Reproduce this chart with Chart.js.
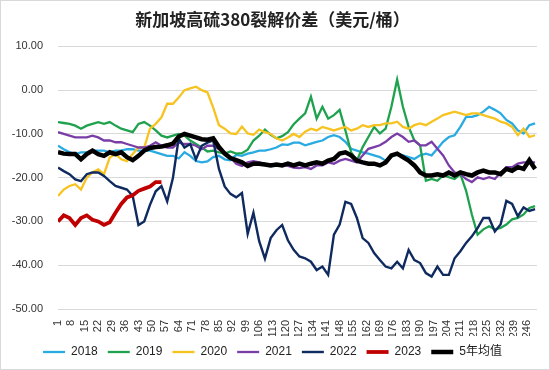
<!DOCTYPE html>
<html><head><meta charset="utf-8">
<script src="https://cdn.jsdelivr.net/npm/chart.js@4.4.1/dist/chart.umd.min.js"></script>
<style>html,body{margin:0;padding:0;background:#fff}</style>
</head><body>
<canvas id="c" width="550" height="370"></canvas>
<script>
const days = [1,4,7,10,13,16,19,22,25,28,31,34,37,40,43,46,49,52,55,58,61,64,
  67,70,73,76,79,82,85,88,91,94,97,100,103,106,109,112,115,118,121,124,127,
  130,133,136,139,142,145,148,151,154,157,160,163,166,169,172,175,178,181,184,187,190,
  193,196,199,202,205,208,211,214,217,220,223,226,229,232,235,238,241,244,247,250];
const xTickLabels = [1,8,15,22,29,36,43,50,57,64,71,78,85,92,99,106,113,120,127,134,141,148,155,162,169,176,183,190,197,204,211,218,225,232,239,246];
const seriesNames = ['2018','2019','2020','2021','2022','2023','5年均值'];

const y2018 = [-12.7,-13.5,-14.2,-14.6,-14.2,-14.2,-13.8,-13.8,-13.8,-14.2,-13.8,-13.8,-13.5,-13.5,-13.8,-13.8,-13.8,-14.2,-14.6,-15,-15,-15.6,
  -14.2,-15,-16.2,-16.5,-16.3,-15.3,-15,-15.8,-16,-14.8,-15,-14.5,-14.2,-13.8,-13.8,-13.5,-13.1,-12.4,-12.5,-12,-12,
  -12.6,-12.2,-11.8,-11.5,-10.7,-10.3,-10.7,-11.8,-13.4,-13.8,-14.2,-14.5,-14.9,-15.3,-16.1,-15.3,-14.5,-14.9,-15.3,-15.7,-14.9,
  -14.5,-14.9,-13.4,-11.8,-10.7,-10.3,-8.4,-6.1,-6.1,-5.7,-4.9,-3.8,-4.5,-5.3,-6.8,-7.6,-9.2,-9.9,-8,-7.6];
const y2019 = [-7.3,-7.5,-7.7,-8.1,-8.8,-8.1,-7.7,-7.3,-7.7,-7.3,-8.1,-8.8,-9.2,-9.6,-7.7,-7.3,-8.1,-9.2,-10.4,-10.8,-10.4,-10,
  -10.4,-11.5,-12.3,-13.1,-14,-13.8,-14.2,-14.5,-14,-14.5,-14.4,-13.6,-11.5,-10.4,-9,-10.2,-11,-10.5,-9.6,-7.8,-6.5,
  -5.3,-1.5,-6.5,-3.8,-6.5,-5.7,-4.5,-9.2,-14.2,-16.1,-13,-10.7,-8.4,-9.9,-8.8,-3.8,2.4,-3.8,-8.4,-11.5,-12.6,
  -20.7,-20.3,-20.7,-19.5,-19.9,-20.3,-19.2,-23,-28.4,-33,-31.8,-31.1,-31.8,-31.5,-30.7,-29.5,-29.2,-28.4,-26.9,-26.5];
const y2020 = [-24.2,-22.7,-21.9,-21.5,-22.7,-20,-18.8,-18.1,-19.2,-15.4,-14.6,-15.8,-16.2,-14.6,-13.1,-13.1,-8.8,-7.7,-6.2,-3.1,-3.1,-1.7,
  0,0.4,0.8,0,-0.5,-4,-8,-8.8,-9.9,-10,-8.3,-9.9,-10.2,-9,-9.6,-10,-11,-11.5,-10.8,-10,-10.7,
  -9.5,-8.8,-9.2,-8.4,-8.8,-9.2,-8.8,-8.4,-9.2,-8.8,-8,-8.4,-8,-8,-7.6,-7.6,-7.2,-8.4,-8.8,-8,-7.6,
  -8,-7.2,-6.5,-5.7,-5.3,-4.9,-5.3,-5.7,-5.3,-5.3,-5.7,-6.1,-6.5,-7.2,-7.6,-8.4,-10.3,-8.8,-10.7,-10.3];
const y2021 = [-9.6,-10,-10.4,-10.8,-10.8,-10.8,-10.4,-10.8,-11.5,-11.5,-11.9,-11.9,-12.3,-12.7,-13.1,-13.1,-12.7,-11.9,-12.7,-13.1,-13.1,-12,
  -12.3,-12.3,-12.7,-13.5,-12.7,-12.7,-13.5,-14.2,-15.4,-16.8,-17.3,-16.5,-16.2,-16.5,-16.9,-16.9,-17.3,-16.9,-17.3,-17.7,-17.8,
  -17.6,-18,-17.2,-17.2,-16.5,-16.8,-16.1,-15.7,-16.1,-16.5,-14.9,-13.4,-13,-12.6,-11.8,-10.7,-9.9,-10.7,-11.8,-11.5,-12.6,
  -12.6,-11.8,-13.4,-14.9,-17.2,-18.8,-19.2,-20.3,-21,-19.9,-20.3,-19.9,-20.3,-18.8,-17.6,-17.6,-16.8,-16.5,-16.5,-16.5];
const y2022 = [-17.7,-18.5,-19.2,-20.4,-20.8,-19.2,-18.8,-18.8,-19.6,-20.8,-21.9,-22.3,-22.7,-24.2,-30.8,-30,-26.2,-23.1,-21.9,-25.4,-20,-11,
  -13.1,-12.3,-15.8,-12.7,-12,-11.5,-18,-22,-23.7,-24.5,-23.5,-32.8,-28,-34.5,-38.5,-33.8,-32,-30.8,-34.3,-36.5,-38,
  -38.4,-39.2,-41.1,-40.3,-42.2,-33,-30.7,-25.5,-26,-29.2,-33.8,-34.9,-37.2,-38.8,-40.3,-40.7,-39.2,-40.7,-36.5,-38.8,-39.5,
  -41.8,-42.6,-40.3,-42.2,-42.2,-38.4,-36.8,-34.9,-33.4,-31.5,-29.2,-29.2,-32.3,-30.7,-25.3,-26,-28.8,-26.8,-27.6,-27.2];
const y2023 = [-30,-28.6,-29.2,-30.8,-29.2,-28.6,-29.6,-30,-30.8,-30.2,-28,-26,-24.5,-24,-23,-22.5,-22,-21,-21];
const yAvg = [-14.2,-14.5,-14.6,-14.6,-15.8,-14.6,-13.8,-14.6,-15,-14.2,-14.6,-14.2,-15.3,-16,-15,-13.8,-13.2,-13,-12.9,-12.6,-12.2,-10.6,
  -10,-10.4,-10.8,-11.2,-11.3,-11,-13,-14.5,-15.5,-16,-16.5,-17.3,-16.8,-16.8,-17,-17.2,-17,-17.2,-16.8,-17.2,-16.8,
  -17.2,-16.8,-16.5,-16.8,-16.1,-15.7,-14.5,-14.2,-14.9,-16.1,-16.5,-16.8,-16.8,-17.2,-16.5,-14.9,-14.5,-15.3,-16.1,-17.2,-18.8,
  -19.5,-19.5,-19.2,-19.5,-18.8,-19.5,-18.8,-19.2,-19.5,-18.8,-18.4,-18.8,-18.8,-19.2,-18,-18.4,-17.6,-18,-16,-18];

const allSeries = [y2018, y2019, y2020, y2021, y2022, y2023, yAvg];
const colors = ['#29ABE2','#1FA24E','#F7C320','#7A3DA8','#0E2A5E','#C00000','#000000'];
const widths = [2.3, 2.3, 2.3, 2.3, 2.4, 3.8, 4.5];

const toPts = arr => arr.map((v, i) => ({x: days[i], y: v}));

const bgPlugin = {
  id: 'bg',
  beforeDraw(chart) {
    const c = chart.ctx;
    c.save();
    c.fillStyle = '#fff';
    c.fillRect(0, 0, chart.width, chart.height);
    c.strokeStyle = '#d9d9d9';
    c.lineWidth = 1;
    c.strokeRect(0.5, 0.5, chart.width - 1, chart.height - 1);
    c.restore();
  }
};

const fontFam = "'Liberation Sans', 'Noto Sans CJK SC', Arial, sans-serif";

new Chart(document.getElementById('c'), {
  type: 'line',
  data: {
    datasets: allSeries.map((arr, i) => ({
      label: seriesNames[i],
      data: toPts(arr),
      borderColor: colors[i],
      backgroundColor: colors[i],
      borderWidth: widths[i],
      pointRadius: 0,
      tension: 0,
      fill: false,
      order: 6 - i
    }))
  },
  options: {
    responsive: false,
    animation: false,
    devicePixelRatio: 1,
    layout: { padding: { left: 8, right: 13, top: 0, bottom: 2 } },
    plugins: {
      title: {
        display: true,
        text: '新加坡高硫380裂解价差（美元/桶）',
        color: '#222',
        font: { family: "'Noto Sans CJK SC', sans-serif", size: 17, weight: 'bold', lineHeight: 1.2 },
        padding: { top: 9, bottom: 17 }
      },
      legend: {
        position: 'bottom',
        labels: {
          usePointStyle: true,
          pointStyle: 'line',
          pointStyleWidth: 22,
          padding: 10,
          color: '#222',
          font: { family: fontFam, size: 12 },
          sort: (a, b) => a.datasetIndex - b.datasetIndex
        }
      },
      tooltip: { enabled: false }
    },
    scales: {
      x: {
        type: 'linear',
        min: 1,
        max: 251,
        grid: { display: false },
        border: { display: false },
        afterBuildTicks: s => { s.ticks = xTickLabels.map(v => ({ value: v })); },
        afterFit: s => { s.height = 27; },
        ticks: {
          autoSkip: false,
          minRotation: 90,
          maxRotation: 90,
          padding: 3,
          color: '#333',
          font: { family: fontFam, size: 11 },
          callback: v => String(v)
        }
      },
      y: {
        min: -50,
        max: 10,
        afterFit: s => { s.width = 50; },
        grid: { color: '#d9d9d9', drawTicks: false, lineWidth: 1 },
        border: { display: false },
        ticks: {
          stepSize: 10,
          padding: 15,
          color: '#333',
          font: { family: fontFam, size: 11 },
          callback: v => v.toFixed(2)
        }
      }
    }
  },
  plugins: [bgPlugin]
});
</script>
</body></html>
